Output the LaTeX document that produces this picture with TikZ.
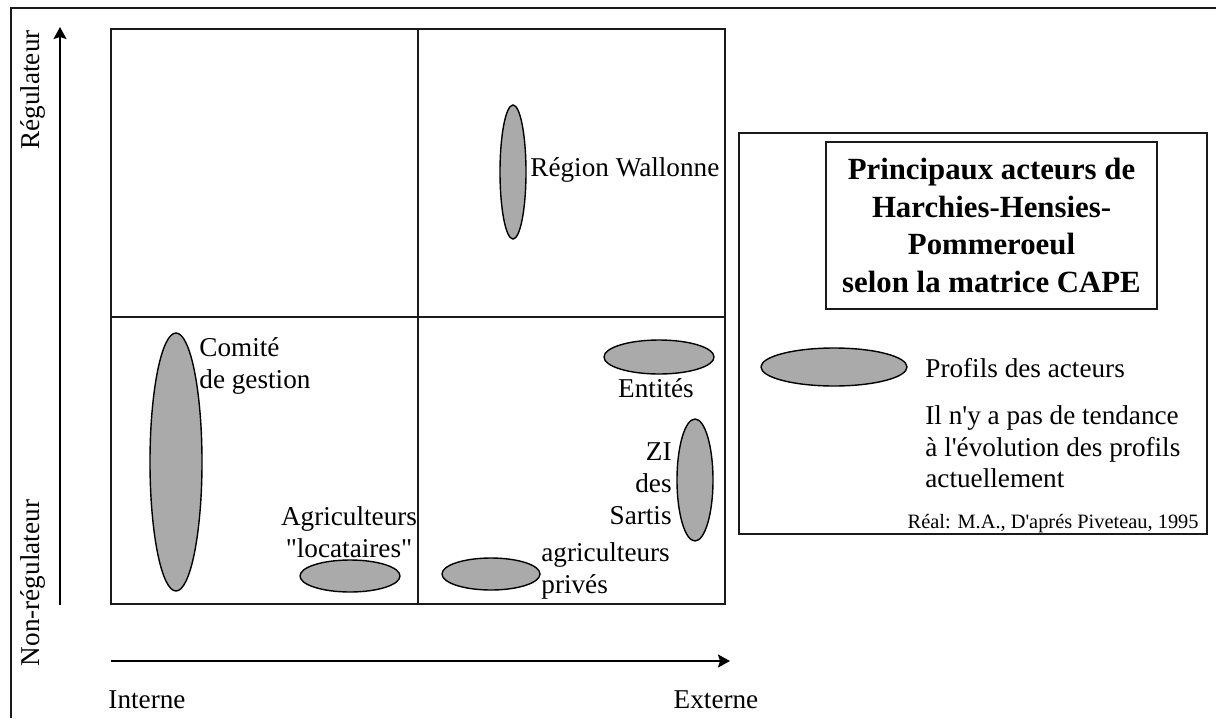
\documentclass[tikz,border=0pt]{standalone}
\usepackage{fontspec}
\setmainfont{Liberation Serif}
\usepackage{tikz}
\usetikzlibrary{arrows.meta, positioning, shapes.geometric}
\usepackage{xcolor}
\definecolor{actorgray}{HTML}{AAAAAA}
\definecolor{framedark}{HTML}{1A1A1A}
\newcommand{\sq}{\textquotesingle}
\newcommand{\dq}{\textquotedbl}

\begin{document}
\begin{tikzpicture}[
  x=0.5pt, y=-0.5pt,
  font=\fontsize{13.6}{16}\selectfont,
  actor/.style={ellipse, draw=black, fill=actorgray, line width=0.7pt,
                inner sep=0pt},
  lbl/.style={inner sep=0pt, align=left},
  axis/.style={-{Stealth[length=6pt, width=6.5pt, inset=1pt]}, line width=0.8pt},
  grid/.style={draw=framedark, line width=0.9pt},
  boxtitle/.style={draw=framedark, line width=0.8pt, align=center,
                   font=\fontsize{15.4}{18.7}\selectfont\bfseries,
                   minimum width=165.5pt, minimum height=83.5pt, inner sep=0pt}
]
\useasboundingbox (0,0) rectangle (1216,718);

% ---------------- Outer frame ----------------
\coordinate (fbl) at (11,718);
\coordinate (ftl) at (11,8);
\coordinate (ftr) at (1216,8);
\draw[line width=1.2pt, draw=framedark] (fbl) -- (ftl) -- (ftr);

% ---------------- Axes ----------------
\coordinate (ybot) at (60,605);
\coordinate (ytop) at (60,27);
\coordinate (xleft) at (111,661);
\coordinate (xright) at (730,661);
\draw[axis] (ybot) -- (ytop);
\draw[axis] (xleft) -- (xright);

\node[rotate=90] (reg)    at (33,90)  {Régulateur};
\node[rotate=90] (nonreg) at (33,583) {Non-régulateur};
\node (interne) at (147,700) {Interne};
\node (externe) at (716,700) {Externe};

% ---------------- Matrix ----------------
\coordinate (mtl) at (111,29);
\coordinate (mbr) at (725,604);
\draw[grid] (mtl) rectangle (mbr);
\draw[grid] (418,29) -- (418,604);
\draw[grid] (111,317) -- (725,317);

% ---------------- Actors ----------------
\node[actor, minimum width=13pt, minimum height=67pt]  (wallonne)   at (513,172) {};
\node[actor, minimum width=26pt, minimum height=129pt] (comite)     at (176,462) {};
\node[actor, minimum width=50pt, minimum height=16pt]  (locataires) at (350,576) {};
\node[actor, minimum width=49pt, minimum height=16pt]  (prives)     at (491,574) {};
\node[actor, minimum width=55pt, minimum height=17pt]  (entites)    at (659,357) {};
\node[actor, minimum width=18pt, minimum height=61pt]  (zi)         at (695,480) {};

\node[lbl, anchor=west] (wallonnetxt) at (530,170) {Région Wallonne};
\node[lbl, anchor=west] (comitetxt) at (199,366) {Comité\\de gestion};
\node[lbl, align=center] (locatairestxt) at (349,532) {Agriculteurs\\\dq locataires\dq};
\node[lbl, anchor=west] (privestxt) at (541,571) {agriculteurs\\privés};
\node[lbl] (entitestxt) at (656,388) {Entités};
\node[lbl, anchor=east, align=right] (zitxt) at (672,484) {ZI\\des\\Sartis};

% ---------------- Legend ----------------
\coordinate (ltl) at (739,133);
\coordinate (lbr) at (1207,534);
\draw[grid] (ltl) rectangle (lbr);

\node[boxtitle] (title) at (991.5,225.5)
  {Principaux acteurs de\\Harchies-Hensies-\\Pommeroeul\\selon la matrice CAPE};

\node[actor, minimum width=73pt, minimum height=19pt] (legend) at (834,367) {};
\node[lbl, anchor=west] (legendtxt) at (925,368) {Profils des acteurs};
\node[lbl, anchor=west, font=\fontsize{13.6}{15.8}\selectfont] (note) at (925,447)
  {Il n\sq y a pas de tendance\\à l\sq évolution des profils\\actuellement};
\node[lbl, anchor=east, font=\fontsize{10.2}{12}\selectfont] (source) at (1199,524)
  {Réal: M.A., D\sq aprés Piveteau, 1995};

\end{tikzpicture}
\end{document}
